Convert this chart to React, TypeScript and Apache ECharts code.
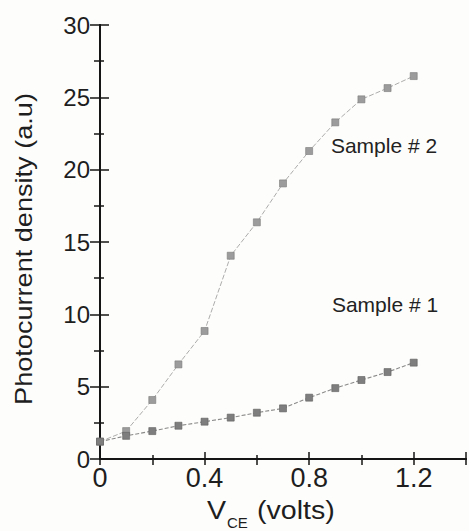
import React, { useEffect, useRef } from "react";
import * as echarts from "echarts";

const voltages = [0, 0.1, 0.2, 0.3, 0.4, 0.5, 0.6, 0.7, 0.8, 0.9, 1.0, 1.1, 1.2];
const sample1 = [1.2, 1.6, 1.93, 2.3, 2.58, 2.86, 3.2, 3.5, 4.24, 4.9, 5.46, 6.01, 6.66];
const sample2 = [1.2, 1.93, 4.08, 6.54, 8.85, 14.05, 16.36, 19.05, 21.29, 23.27, 24.86, 25.64, 26.47];
const xTickLabels = ["0", "0.4", "0.8", "1.2"];
const seriesNames = ["Sample # 1", "Sample # 2"];

const FONT = "Liberation Sans, Arial, sans-serif";

export default function App() {
  const ref = useRef<HTMLDivElement>(null);

  useEffect(() => {
    if (!ref.current) return;
    const chart = echarts.init(ref.current, null, { renderer: "svg" });
    const axisColor = "#151515";
    const labelColor = "#1e1e1e";

    const fmtX = (v: number) => {
      const s = v === 0 ? "0" : v.toFixed(1);
      return xTickLabels.indexOf(s) >= 0 ? s : "";
    };

    chart.setOption({
      animation: false,
      backgroundColor: "#fdfdfb",
      grid: { left: 100, top: 25, width: 373, height: 434 },
      xAxis: [
        {
          type: "value",
          position: "bottom",
          min: 0,
          max: 1.4,
          interval: 0.4,
          axisLine: { lineStyle: { color: axisColor, width: 2 } },
          axisTick: { inside: true, length: 7, lineStyle: { color: axisColor, width: 1.5 } },
          minorTick: { show: true, splitNumber: 2, length: 4, lineStyle: { color: axisColor, width: 1.5 } },
          splitLine: { show: false },
          axisLabel: {
            fontSize: 27,
            fontFamily: FONT,
            color: labelColor,
            margin: 5,
            formatter: fmtX,
          },
        },
        {
          type: "value",
          position: "top",
          min: 0,
          max: 1.4,
          interval: 0.2,
          axisLine: { lineStyle: { color: axisColor, width: 2 } },
          axisTick: { inside: true, length: 6, lineStyle: { color: axisColor, width: 1.5 } },
          splitLine: { show: false },
          axisLabel: { show: false },
        },
      ],
      yAxis: [
        {
          type: "value",
          position: "left",
          min: 0,
          max: 30,
          interval: 5,
          axisLine: { show: true, lineStyle: { color: axisColor, width: 2 } },
          axisTick: { show: true, inside: true, length: 9, lineStyle: { color: axisColor, width: 1.5 } },
          minorTick: { show: true, splitNumber: 2, length: 4, lineStyle: { color: axisColor, width: 1.5 } },
          splitLine: { show: false },
          axisLabel: { fontSize: 24, fontFamily: FONT, color: labelColor, margin: 10 },
        },
        {
          type: "value",
          position: "right",
          min: 0,
          max: 30,
          interval: 5,
          axisLine: { show: true, lineStyle: { color: axisColor, width: 2 } },
          axisTick: { show: true, inside: true, length: 10, lineStyle: { color: axisColor, width: 1.5 } },
          minorTick: { show: true, splitNumber: 2, length: 6, lineStyle: { color: axisColor, width: 1.5 } },
          splitLine: { show: false },
          axisLabel: { show: false },
        },
      ],
      series: [
        {
          name: seriesNames[0],
          type: "line",
          data: voltages.map((v, i) => [v, sample1[i]]),
          symbol: "rect",
          symbolSize: 7,
          itemStyle: { color: "#7e7e7e", borderColor: "#5e5e5e", borderWidth: 0.6 },
          lineStyle: { color: "#8a8a8a", width: 1.1, type: [4, 2] },
          z: 3,
        },
        {
          name: seriesNames[1],
          type: "line",
          data: voltages.map((v, i) => [v, sample2[i]]),
          symbol: "rect",
          symbolSize: 7,
          itemStyle: { color: "#9c9c9c", borderColor: "#7a7a7a", borderWidth: 0.6 },
          lineStyle: { color: "#acacac", width: 1, type: [5, 2] },
          z: 2,
        },
      ],
      graphic: [
        {
          type: "text",
          x: 384,
          y: 145,
          style: {
            text: seriesNames[1],
            fontSize: 21,
            fontFamily: FONT,
            fill: "#222",
            align: "center",
            verticalAlign: "middle",
          },
        },
        {
          type: "text",
          x: 385,
          y: 304,
          style: {
            text: seriesNames[0],
            fontSize: 21,
            fontFamily: FONT,
            fill: "#222",
            align: "center",
            verticalAlign: "middle",
          },
        },
        {
          type: "text",
          x: 24,
          y: 249,
          rotation: Math.PI / 2,
          scaleX: 1.13,
          style: {
            text: "Photocurrent density (a.u)",
            fontSize: 24,
            fontFamily: FONT,
            fill: "#1e1e1e",
            align: "center",
            verticalAlign: "middle",
          },
        },
        {
          type: "text",
          x: 207,
          y: 510,
          scaleX: 1.1,
          style: {
            text: "V",
            fontSize: 26,
            fontFamily: FONT,
            fill: "#1e1e1e",
            align: "left",
            verticalAlign: "middle",
          },
        },
        {
          type: "text",
          x: 227,
          y: 522,
          style: {
            text: "CE",
            fontSize: 15,
            fontFamily: FONT,
            fill: "#1e1e1e",
            align: "left",
            verticalAlign: "middle",
          },
        },
        {
          type: "text",
          x: 257,
          y: 510,
          scaleX: 1.1,
          style: {
            text: "(volts)",
            fontSize: 26,
            fontFamily: FONT,
            fill: "#1e1e1e",
            align: "left",
            verticalAlign: "middle",
          },
        },
      ],
    });

    return () => chart.dispose();
  }, []);

  return (
    <div
      ref={ref}
      style={{ width: 469, height: 531, position: "absolute", left: 0, top: 0 }}
    />
  );
}
